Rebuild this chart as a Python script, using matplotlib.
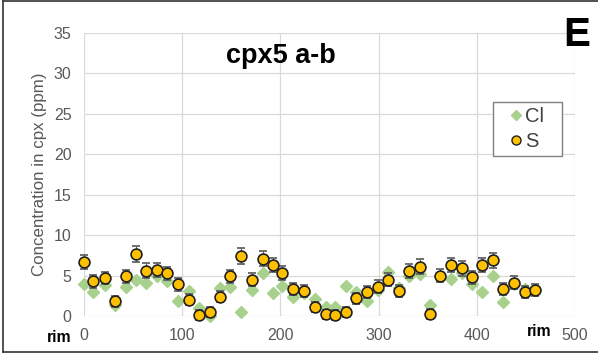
import matplotlib
matplotlib.use("Agg")
import matplotlib.pyplot as plt
from matplotlib.lines import Line2D
from matplotlib.patches import Rectangle

plt.rcParams['font.family'] = ['Liberation Sans', 'DejaVu Sans']

distance = [0, 9.5, 21, 32, 43, 53, 63, 74, 85, 96, 107, 117, 128, 138.5, 149, 160,
            171, 182, 192, 202, 213, 224, 235, 246, 256, 267, 277, 288, 299, 310, 321,
            331, 342, 352, 363, 374, 384.5, 395, 405, 416, 427, 438, 449, 459]
s_vals = [6.7, 4.3, 4.7, 1.8, 4.9, 7.7, 5.6, 5.7, 5.3, 3.9, 2.0, 0.1, 0.5, 2.4, 4.9, 7.4,
          4.5, 7.1, 6.3, 5.3, 3.3, 3.1, 1.1, 0.2, 0.1, 0.5, 2.2, 3.0, 3.6, 4.5, 3.1,
          5.6, 6.1, 0.25, 5.0, 6.3, 5.9, 4.8, 6.3, 6.9, 3.3, 4.1, 3.0, 3.2]
s_err = [0.9, 0.8, 0.8, 0.7, 0.8, 1.0, 0.9, 0.9, 0.8, 0.8, 0.7, 0.6, 0.6, 0.7, 0.8, 0.95,
         0.8, 0.95, 0.9, 0.85, 0.75, 0.75, 0.6, 0.6, 0.6, 0.6, 0.7, 0.75, 0.8, 0.8, 0.75,
         0.85, 0.9, 0.6, 0.85, 0.9, 0.9, 0.8, 0.9, 0.95, 0.75, 0.8, 0.75, 0.75]
cl_vals = [3.9, 3.0, 3.8, 1.4, 3.6, 4.5, 4.1, 4.9, 4.3, 1.8, 3.1, 1.0, 0.0, 3.5, 3.6, 0.45,
           3.2, 5.3, 2.9, 3.7, 2.4, 2.8, 2.1, 1.1, 1.1, 3.7, 3.0, 1.9, 3.2, 5.4, 3.5,
           4.9, 5.2, 1.3, 5.0, 4.6, 5.3, 3.9, 3.0, 5.0, 1.7, 3.9, 3.3, 3.2]

x_ticks = [0, 100, 200, 300, 400, 500]
y_ticks = [0, 5, 10, 15, 20, 25, 30, 35]

fig = plt.figure(figsize=(5.98, 3.58), dpi=100)
ax = fig.add_axes([84/598, 1-316/358, 491/598, 283/358])

green = '#A9D18E'
gold = '#FFC000'
grey_txt = '#595959'

ax.plot(distance, cl_vals, linestyle='none', marker='D', markersize=6.2,
        color=green, markeredgecolor=green, zorder=3, clip_on=False)
ax.errorbar(distance, s_vals, yerr=s_err, fmt='o', markersize=7.8,
            markerfacecolor=gold, markeredgecolor='#202020', markeredgewidth=1.2,
            ecolor='#595959', elinewidth=0.8, capsize=2.8, capthick=0.8, zorder=4,
            clip_on=False)

ax.set_xlim(0, 500)
ax.set_ylim(0, 35)
ax.set_xticks(x_ticks)
ax.set_yticks(y_ticks)
ax.grid(True, color='#D9D9D9', linewidth=0.9)
ax.set_axisbelow(True)
for sp in ax.spines.values():
    sp.set_visible(False)
ax.tick_params(length=0, labelsize=11.5, labelcolor=grey_txt, pad=9)
ax.set_ylabel('Concentration in cpx (ppm)', fontsize=12.2, color=grey_txt, labelpad=5)

ax.text(200.6, 31.3, 'cpx5 a-b', fontsize=19.5, fontweight='bold', ha='center', va='baseline')
fig.text(577/598, 1-35/358, 'E', fontsize=29, fontweight='bold', ha='center', va='center')
fig.text(59/598, 1-338/358, 'rim', fontsize=11.3, fontweight='bold', ha='center', va='center')
fig.text(539/598, 1-331/358, 'rim', fontsize=11.3, fontweight='bold', ha='center', va='center')

# legend frame drawn as a box, entries placed inside
ax.add_patch(Rectangle((0.833, 0.565), 0.140, 0.191, transform=ax.transAxes,
                       facecolor='white', edgecolor='#808080', linewidth=1.0, zorder=5))
handles = [Line2D([], [], linestyle='none', marker='D', markersize=5.2, color=green),
           Line2D([], [], linestyle='none', marker='o', markersize=6.5,
                  markerfacecolor=gold, markeredgecolor='#202020', markeredgewidth=1.0)]
leg = ax.legend(handles, ['Cl', 'S'], loc='center', bbox_to_anchor=(0.903, 0.66),
                fontsize=14.5, frameon=False, handlelength=0.55, handletextpad=0.2,
                borderpad=0, labelspacing=0.28, borderaxespad=0)
leg.set_zorder(6)
for t in leg.get_texts():
    t.set_color('#404040')

# figure border lines
fig.add_artist(Line2D([3/598, 3/598], [1-352/358, 1-1/358], color='#333333', linewidth=1.2,
                      transform=fig.transFigure))
fig.add_artist(Line2D([3/598, 1], [1-1/358, 1-1/358], color='#333333', linewidth=1.2,
                      transform=fig.transFigure))
fig.add_artist(Line2D([3/598, 1], [1-352/358, 1-352/358], color='#333333', linewidth=1.2,
                      transform=fig.transFigure))

fig.savefig('out.png', dpi=100)
